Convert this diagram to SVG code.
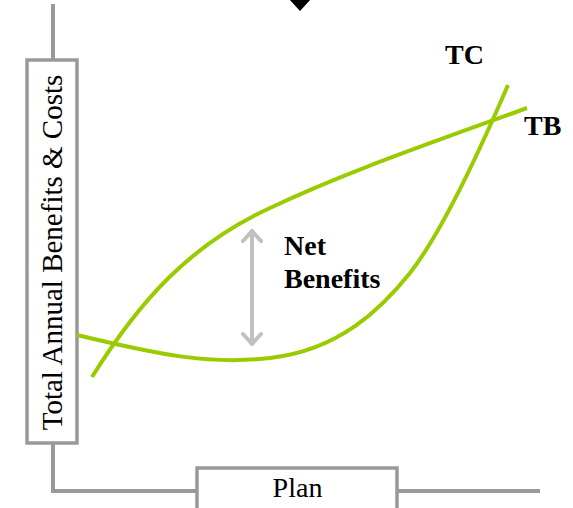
<svg xmlns="http://www.w3.org/2000/svg" width="573" height="508" viewBox="0 0 573 508">
  <style>
    .axis { fill: none; stroke: #999999; stroke-width: 4; }
    .box { fill: #ffffff; stroke: #999999; stroke-width: 3.5; }
    .curve { fill: none; stroke: #99cc00; stroke-width: 4; stroke-linecap: butt; }
    .label { font-family: "Liberation Serif", "Times New Roman", serif; fill: #000000; }
    .bold { font-weight: bold; }
    .span { fill: none; stroke: #c0c0c0; stroke-width: 4; stroke-linecap: round; stroke-linejoin: round; }
  </style>
  <rect width="573" height="508" fill="#ffffff"/>

  <!-- pointer at the top edge -->
  <polygon points="289,-1 311,-1 300,11" fill="#000000"/>

  <!-- axes -->
  <g id="connectors">
    <line class="axis" x1="53" y1="4" x2="53" y2="60"/>
    <polyline class="axis" points="53,443 53,491 197,491"/>
    <line class="axis" x1="397" y1="491" x2="540" y2="491"/>
  </g>

  <g id="y-axis-label">
    <rect class="box" x="27" y="60" width="50" height="383"/>
    <text class="label" font-size="29" x="0" y="0" text-anchor="middle" transform="translate(61.5,252.5) rotate(-90)">Total Annual Benefits &amp; Costs</text>
  </g>

  <g id="x-axis-label">
    <rect class="box" x="197" y="468" width="200" height="50"/>
    <text class="label" font-size="28" x="297.5" y="497" text-anchor="middle">Plan</text>
  </g>

  <!-- total benefits -->
  <g id="tb">
    <path class="curve" d="M92,377 C140,300 190,245 270,208 C350,170 440,140 527,108"/>
    <text class="label bold" font-size="28" x="524" y="135">TB</text>
  </g>

  <!-- total costs -->
  <g id="tc">
    <path class="curve" d="M77,335 C160,355 210,365 270,358 C340,350 382,308 410,273 C442,232 480,150 508,85"/>
    <text class="label bold" font-size="28" x="445" y="64">TC</text>
  </g>

  <!-- net benefits span -->
  <g id="net-benefits">
    <line class="span" x1="252" y1="231" x2="252" y2="344"/>
    <polyline class="span" points="243,241 252,231 261,241"/>
    <polyline class="span" points="243,334 252,344 261,334"/>
    <text class="label bold" font-size="28" x="284" y="255">Net</text>
    <text class="label bold" font-size="28" x="284" y="288">Benefits</text>
  </g>
</svg>
